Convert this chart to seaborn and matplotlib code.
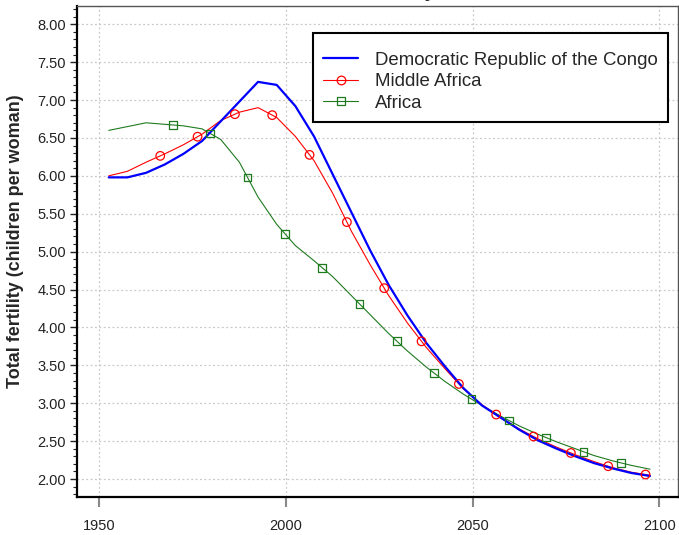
import numpy as np
import pandas as pd
import matplotlib
matplotlib.use("Agg")
import matplotlib.pyplot as plt
import seaborn as sns
from matplotlib.lines import Line2D
from matplotlib.ticker import MultipleLocator, FormatStrFormatter

# okresy pieciolecia, srodki przedzialow
years = [1952.5, 1957.5, 1962.5, 1967.5, 1972.5, 1977.5, 1982.5, 1987.5, 1992.5, 1997.5,
         2002.5, 2007.5, 2012.5, 2017.5, 2022.5, 2027.5, 2032.5, 2037.5, 2042.5, 2047.5,
         2052.5, 2057.5, 2062.5, 2067.5, 2072.5, 2077.5, 2082.5, 2087.5, 2092.5, 2097.5]

drc = [5.98, 5.98, 6.04, 6.15, 6.29, 6.46, 6.72, 6.98, 7.24, 7.20,
       6.92, 6.52, 6.02, 5.52, 5.02, 4.56, 4.16, 3.80, 3.49, 3.20,
       2.97, 2.81, 2.65, 2.51, 2.40, 2.30, 2.21, 2.14, 2.08, 2.04]

middle_africa = [6.00, 6.06, 6.18, 6.29, 6.41, 6.55, 6.73, 6.84, 6.90, 6.77,
                 6.52, 6.20, 5.77, 5.27, 4.83, 4.42, 4.06, 3.74, 3.46, 3.19,
                 2.98, 2.81, 2.66, 2.53, 2.42, 2.32, 2.23, 2.15, 2.09, 2.05]

africa = [6.60, 6.65, 6.70, 6.68, 6.66, 6.62, 6.48, 6.18, 5.72, 5.36,
          5.08, 4.88, 4.67, 4.42, 4.17, 3.92, 3.69, 3.48, 3.29, 3.12,
          2.97, 2.83, 2.70, 2.59, 2.49, 2.40, 2.31, 2.24, 2.18, 2.13]

names = ["Democratic Republic of the Congo", "Middle Africa", "Africa"]

# gdzie na liniach stoja znaczniki
middle_marker_years = [1966.3, 1976.3, 1986.3, 1996.3, 2006.3, 2016.3, 2026.3,
                       2036.3, 2046.3, 2056.3, 2066.3, 2076.3, 2086.3, 2096.3]
africa_marker_years = [1969.7, 1979.7, 1989.7, 1999.7, 2009.7, 2019.7, 2029.7,
                       2039.7, 2049.7, 2059.7, 2069.7, 2079.7, 2089.7]

colors = {names[0]: "#0000ff", names[1]: "#ff0000", names[2]: "#1f7a1f"}
widths = {names[0]: 1.6, names[1]: 0.8, names[2]: 0.8}

df = pd.DataFrame({
    "year": years * 3,
    "tfr": drc + middle_africa + africa,
    "area": [names[0]] * len(years) + [names[1]] * len(years) + [names[2]] * len(years),
})

sns.set_style("ticks")
plt.rcParams["font.family"] = ["Liberation Sans", "DejaVu Sans"]

fig = plt.figure(figsize=(6.79, 5.35), dpi=100)
ax = fig.add_axes([77 / 679, 1 - 497 / 535, 601 / 679, 491 / 535])

# linie - najpierw Africa, na wierzchu DRC
for name in [names[2], names[1], names[0]]:
    sns.lineplot(data=df[df["area"] == name], x="year", y="tfr", color=colors[name],
                 linewidth=widths[name], ax=ax, legend=False)

# znaczniki (puste kolka i kwadraty)
mid_marks = pd.DataFrame({"year": middle_marker_years,
                          "tfr": np.interp(middle_marker_years, years, middle_africa)})
afr_marks = pd.DataFrame({"year": africa_marker_years,
                          "tfr": np.interp(africa_marker_years, years, africa)})
sns.scatterplot(data=mid_marks, x="year", y="tfr", marker="o", s=38,
                facecolor="none", edgecolor=colors[names[1]], linewidth=0.9,
                ax=ax, legend=False, zorder=3)
sns.scatterplot(data=afr_marks, x="year", y="tfr", marker="s", s=30,
                facecolor="none", edgecolor=colors[names[2]], linewidth=0.9,
                ax=ax, legend=False, zorder=3)

ax.set_xlim(1944.0, 2105.0)
ax.set_ylim(1.763, 8.241)
ax.set_xticks([1950, 2000, 2050, 2100])
ax.yaxis.set_major_locator(MultipleLocator(0.5))
ax.yaxis.set_minor_locator(MultipleLocator(0.1))
ax.yaxis.set_major_formatter(FormatStrFormatter("%.2f"))

ax.grid(True, which="major", color="#c8c8c8", linestyle=(0, (1.5, 2.0)), linewidth=0.9)
ax.set_axisbelow(True)

ax.tick_params(axis="y", which="major", length=5, width=1.0, color="#222222",
               labelsize=10.5, labelcolor="#222222", pad=3, direction="out")
ax.tick_params(axis="y", which="minor", length=3, width=0.8, color="#222222", direction="out")
ax.tick_params(axis="x", which="major", length=7, width=1.5, color="#888888",
               labelsize=10.5, labelcolor="#222222", pad=9, direction="out")

for side in ["left", "bottom"]:
    ax.spines[side].set_color("black")
    ax.spines[side].set_linewidth(1.6)
for side in ["top", "right"]:
    ax.spines[side].set_color("#555555")
    ax.spines[side].set_linewidth(1.0)

ax.set_xlabel("")
ax.set_ylabel("Total fertility (children per woman)", fontsize=13, fontweight="bold")
ax.yaxis.set_label_coords(-0.088, 0.52)

# tytul ucięty u gory obrazka (w oryginale widac tylko ogonek litery)
fig.text(377.5 / 679, 1.005, "Total fertility", ha="center", va="baseline",
         fontsize=14, fontweight="bold")

handles = [
    Line2D([0], [0], color=colors[names[0]], lw=widths[names[0]]),
    Line2D([0], [0], color=colors[names[1]], lw=widths[names[1]], marker="o",
           markersize=6.2, markerfacecolor="none", markeredgewidth=0.9),
    Line2D([0], [0], color=colors[names[2]], lw=widths[names[2]], marker="s",
           markersize=5.5, markerfacecolor="none", markeredgewidth=0.9),
]
leg = ax.legend(handles, names, loc="upper right", bbox_to_anchor=(668 / 679, 1 - 33 / 535),
                bbox_transform=fig.transFigure, borderaxespad=0, fontsize=13.4,
                frameon=True, fancybox=False, framealpha=1, edgecolor="black",
                handlelength=1.9, handletextpad=0.9, labelspacing=0.24, borderpad=0.55,
                title=" ", title_fontsize=2)
leg.get_frame().set_linewidth(1.5)

fig.savefig("out.png", dpi=100)
